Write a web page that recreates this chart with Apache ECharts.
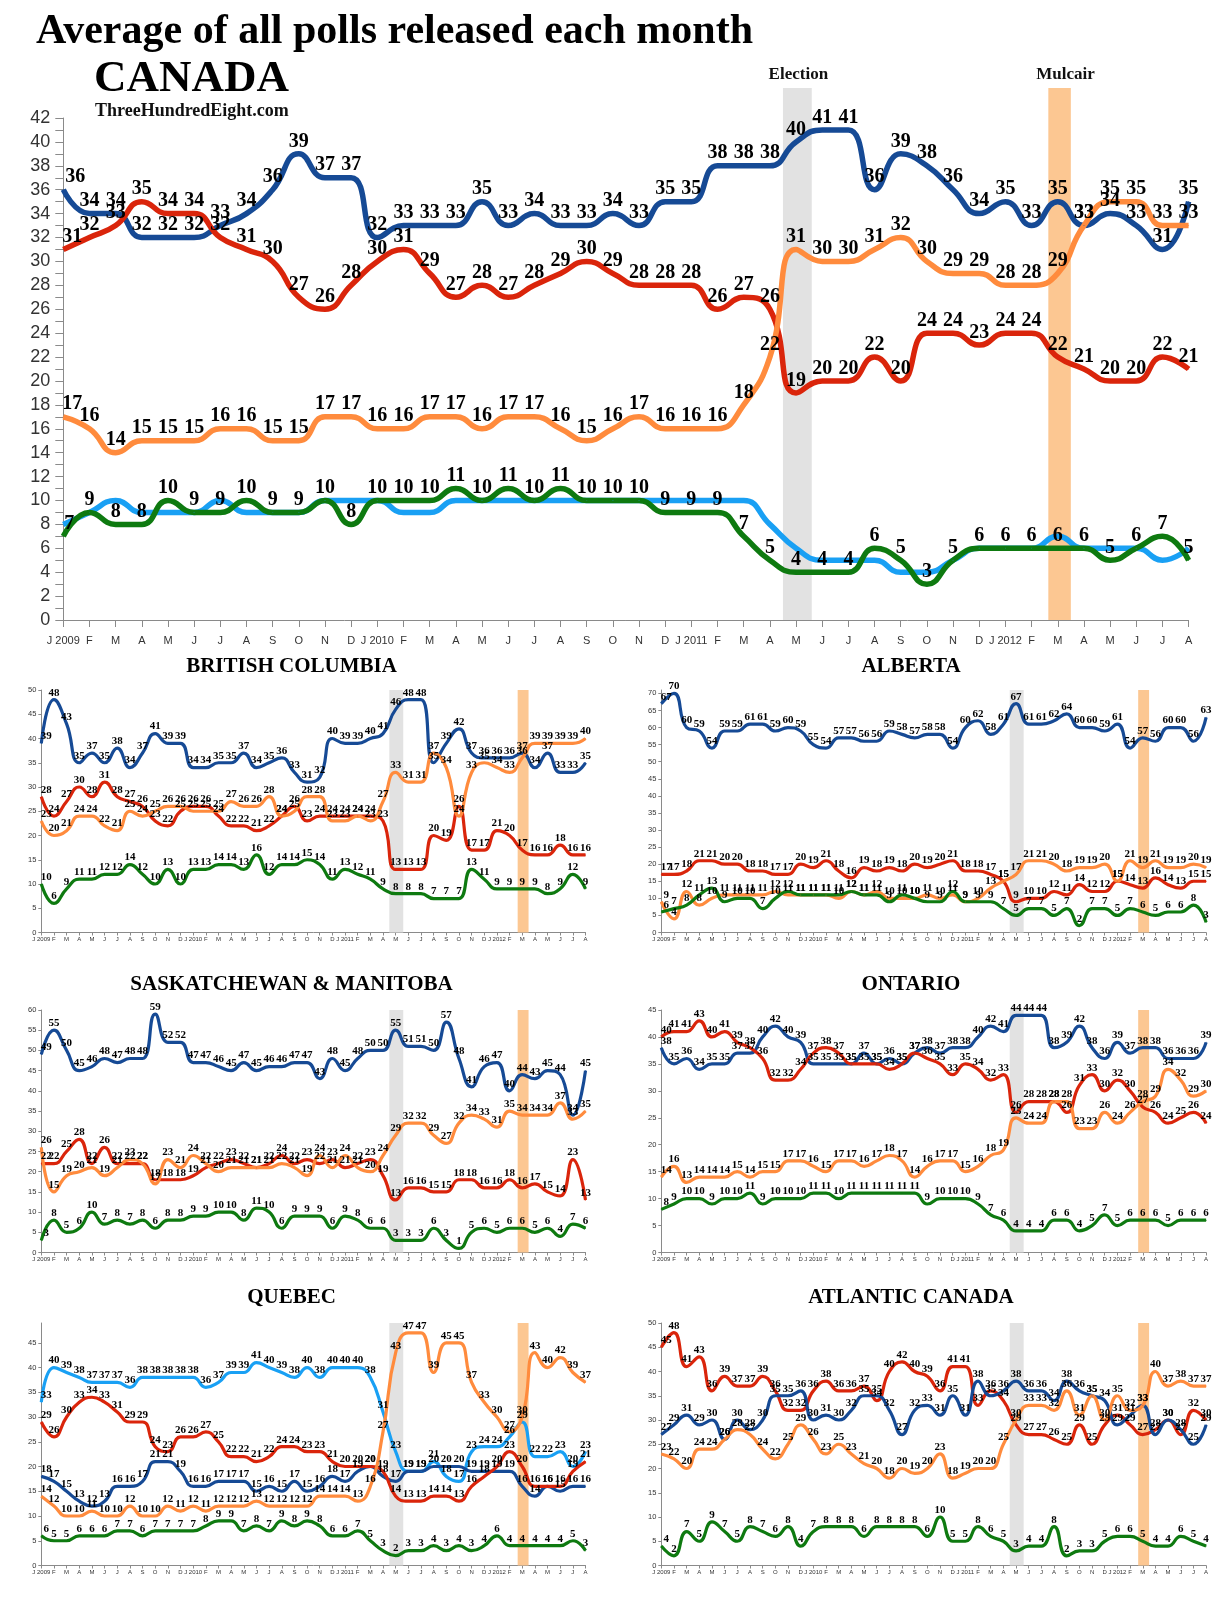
<!DOCTYPE html>
<html><head><meta charset="utf-8">
<script src="https://cdn.jsdelivr.net/npm/echarts@6.0.0/dist/echarts.min.js"></script>
<style>html,body{margin:0;padding:0;background:#fff;}#c{width:1229px;height:1600px;}</style>
</head><body><div id="c"></div>
<script>
const months = ['J 2009','F','M','A','M','J','J','A','S','O','N','D','J 2010','F','M','A','M','J','J','A','S','O','N','D','J 2011','F','M','A','M','J','J','A','S','O','N','D','J 2012','F','M','A','M','J','J','A'];

const canadaCon = [36,34,34,32,32,32,33,34,36,39,37,37, 32,33,33,33,35,33,34,33,33,34,33,35, 35,38,38,38,40,41,41,36,39,38,36,34, 35,33,35,33,34,33,31,35];
const canadaLib = [31,32,33,35,34,34,32,31,30,27,26,28, 30,31,29,27,28,27,28,29,30,29,28,28, 28,26,27,26,19,20,20,22,20,24,24,23, 24,24,22,21,20,20,22,21];
const canadaNdp = [17,16,14,15,15,15,16,16,15,15,17,17, 16,16,17,17,16,17,17,16,15,16,17,16, 16,16,18,22,31,30,30,31,32,30,29,29, 28,28,29,33,35,35,33,33];
const canadaBloc = [8,9,10,9,9,9,10,9,9,9,10,10, 10,9,9,10,10,10,10,10,10,10,10,10, 10,10,10,8,6,5,5,5,4,4,5,6, 6,6,7,6,6,6,5,6];
const canadaGrn = [7,9,8,8,10,9,9,10,9,9,10,8, 10,10,10,11,10,11,10,11,10,10,10,9, 9,9,7,5,4,4,4,6,5,3,5,6, 6,6,6,6,5,6,7,5];

const bcCon = [39,48,43,35,37,35,38,34,37,41,39,39, 34,34,35,35,37,34,35,36,33,31,32,40, 39,39,40,41,46,48,48,35,39,42,37,36, 36,36,37,34,37,33,33,35];
const bcLib = [28,24,27,30,28,31,28,27,26,23,22,25, 26,26,24,22,22,21,22,24,26,23,24,24, 24,24,24,23,13,13,13,20,19,26,17,17, 21,20,17,16,16,18,16,16];
const bcNdp = [23,20,21,24,24,22,21,25,24,25,26,26, 25,25,25,27,26,26,28,24,25,28,28,23, 23,24,23,27,33,31,31,37,34,24,33,35, 34,33,36,39,39,39,39,40];
const bcGrn = [10,6,9,11,11,12,12,14,12,10,13,10, 13,13,14,14,13,16,12,14,14,15,14,11, 13,12,11,9,8,8,8,7,7,7,13,11, 9,9,9,9,8,9,12,9];

const abCon = [67,70,60,59,54,59,59,61,61,59,60,59, 55,54,57,57,56,56,59,58,57,58,58,54, 60,62,58,61,67,61,61,62,64,60,60,59, 61,54,57,56,60,60,56,63];
const abLib = [17,17,18,21,21,20,20,18,18,17,17,20, 19,21,18,16,19,18,19,18,20,19,20,21, 18,18,17,15,9,10,10,12,11,14,12,12, 15,14,13,16,14,13,15,15];
const abNdp = [9,4,12,8,10,11,11,11,11,12,11,11, 11,11,10,12,11,12,10,10,10,11,10,11, 9,10,13,15,17,21,21,20,18,19,19,20, 15,21,19,21,19,19,20,19];
const abGrn = [6,7,8,11,13,9,10,10,7,10,12,11, 11,11,11,12,11,11,9,11,10,9,9,12, 9,9,9,7,5,7,7,5,7,2,7,7, 5,7,6,5,6,6,8,3];

const skCon = [49,55,50,45,46,48,47,48,48,59,52,52, 47,47,46,45,47,45,46,46,47,47,43,48, 45,48,50,50,55,51,51,50,57,48,41,46, 47,40,44,43,45,44,34,45];
const skLib = [22,22,25,28,22,26,22,22,22,18,18,18, 19,21,22,23,22,21,22,24,22,23,22,23, 21,22,23,19,13,16,16,15,15,18,18,16, 16,18,16,17,15,14,23,13];
const skNdp = [26,15,19,20,21,19,21,23,22,17,23,21, 24,22,20,21,21,21,21,22,21,19,24,21, 24,21,20,24,29,32,32,29,27,32,34,33, 31,35,34,34,34,37,33,35];
const skGrn = [3,8,5,6,10,7,8,7,8,6,8,8, 9,9,10,10,8,11,10,6,9,9,9,6, 9,8,6,6,3,3,3,6,3,1,5,6, 5,6,6,5,6,4,7,6];

const onCon = [38,35,36,34,35,35,37,37,40,42,40,39, 35,35,35,35,37,35,36,35,37,38,37,38, 38,40,42,41,44,44,44,38,39,42,38,36, 39,37,38,38,36,36,36,39];
const onLib = [40,41,41,43,40,41,39,38,36,32,32,34, 37,38,37,35,35,35,34,35,37,36,35,33, 35,34,32,33,26,28,28,28,26,31,33,30, 32,30,27,26,24,25,26,24];
const onNdp = [14,16,13,14,14,14,15,14,15,15,17,17, 16,15,17,17,16,17,18,17,14,16,17,17, 15,16,18,19,25,24,24,28,28,23,23,26, 24,26,28,29,34,32,29,30];
const onGrn = [8,9,10,10,9,10,10,11,9,10,10,10, 11,11,10,11,11,11,11,11,11,9,10,10, 10,9,7,6,4,4,4,6,6,4,5,7, 5,6,6,6,5,6,6,6];

const qcBloc = [33,40,39,38,37,37,37,36,38,38,38,38, 38,36,37,39,39,41,40,39,38,40,38,40, 40,40,38,31,23,19,19,21,18,17,23,24, 24,26,29,22,22,23,20,23];
const qcCon = [18,17,15,13,12,13,16,16,17,21,21,19, 16,16,17,17,17,15,16,15,17,15,16,18, 17,19,20,18,17,19,19,20,20,20,19,19, 19,19,16,14,16,15,16,16];
const qcLib = [29,26,30,33,34,33,31,29,29,24,23,26, 26,27,25,22,22,21,22,24,24,23,23,21, 20,20,20,19,14,13,13,14,14,13,16,18, 20,23,20,16,16,16,19,21];
const qcNdp = [14,12,10,10,11,10,10,12,10,10,12,11, 12,11,12,12,12,13,12,12,12,12,14,14, 14,13,16,27,43,47,47,39,45,45,37,33, 30,27,30,43,40,42,39,37];
const qcGrn = [6,5,5,6,6,6,7,7,6,7,7,7, 7,8,9,9,7,8,7,9,8,9,8,6, 6,7,5,3,2,3,3,4,3,4,3,4, 6,4,4,4,4,4,5,3];

const atLib = [45,48,41,43,36,39,37,37,39,36,32,32, 36,38,36,36,37,34,40,42,40,39,36,41, 41,33,36,34,29,27,27,26,25,29,25,29, 31,29,27,28,30,27,32,30];
const atCon = [27,29,31,29,30,26,30,28,30,35,35,36, 30,31,30,32,35,35,32,27,32,33,31,35, 31,38,35,36,38,36,36,34,38,36,35,34, 29,31,33,27,30,28,25,29];
const atNdp = [23,22,20,24,24,26,28,27,24,22,25,29, 26,23,25,23,21,20,18,20,19,20,23,18, 19,20,20,25,30,33,33,32,36,31,35,30, 35,32,33,40,37,38,37,37];
const atGrn = [4,2,7,5,9,7,5,8,7,6,8,4, 7,8,8,8,6,8,8,8,8,6,10,5, 5,8,6,5,3,4,4,8,2,3,3,5, 6,6,5,4,4,6,5,4];

const eventBands = [
  {name: 'Election', from: 27.5, to: 28.6},
  {name: 'Mulcair', from: 37.64, to: 38.5}
];

const C = {con:'#164a95', lib:'#da250b', ndp:'#ff8b3d', bloc:'#19a0f4', grn:'#0e7a10'};
const SERIF = 'Liberation Serif';
const SANS = 'Liberation Sans';

const chart = echarts.init(document.getElementById('c'), null, {renderer: 'canvas'});

const grids = [], xAxes = [], yAxes = [], series = [], graphics = [];

function addLine(gi, data, color, width, fs, showLabel, z, firstShift) {
  series.push({
    type: 'line', xAxisIndex: gi, yAxisIndex: gi,
    data: data.map((v, i) => i === 0 ? {value: [i, v], label: {offset: [firstShift, 0]}} : [i, v]),
    smooth: 0.5, symbol: 'circle', symbolSize: 1, showSymbol: true,
    lineStyle: {color: color, width: width}, itemStyle: {color: color},
    label: showLabel ? {show: true, position: 'top', distance: fs > 14 ? 2 : 1, color: '#000',
      fontFamily: SERIF, fontWeight: 'bold', fontSize: fs} : {show: false},
    emphasis: {disabled: true}, silent: true, animation: false, z: z
  });
}

function addBands(gi, withLabel) {
  series.push({
    type: 'line', xAxisIndex: gi, yAxisIndex: gi, data: [[0, 0]], symbol: 'none',
    lineStyle: {width: 0, opacity: 0}, silent: true, animation: false, z: 1,
    markArea: {
      silent: true,
      data: eventBands.map((b, k) => [
        {xAxis: b.from, name: b.name,
         itemStyle: {color: k === 0 ? '#e2e2e2' : '#fcc792'},
         label: withLabel ? {show: true, position: 'top', distance: 5, color: '#111',
           fontFamily: SERIF, fontWeight: 'bold', fontSize: 17, offset: [k === 0 ? 1 : 6, 0]} : {show: false}},
        {xAxis: b.to}
      ])
    }
  });
}

function xAxisDef(gi, opt) {
  return {
    type: 'value', gridIndex: gi, min: 0, max: 43, interval: 1,
    axisLine: {show: true, onZero: false, lineStyle: {color: '#8a8a8a', width: 1}},
    axisTick: {show: true, length: opt.tick, lineStyle: {color: '#8a8a8a'}},
    axisLabel: {show: true, formatter: v => months[v] || '', fontFamily: SANS, fontSize: opt.fs, color: '#333', margin: opt.margin, hideOverlap: false, showMinLabel: true, showMaxLabel: true},
    splitLine: {show: false}
  };
}

function yAxisDef(gi, max, interval, opt) {
  const ticks = [];
  for (let v = 0; v <= max; v += interval) ticks.push(v);
  return {
    type: 'value', gridIndex: gi, min: 0, max: max, interval: interval,
    axisLine: {show: true, lineStyle: {color: '#8a8a8a', width: 1}},
    axisTick: {show: true, length: opt.tick, lineStyle: {color: '#8a8a8a'}, customValues: ticks},
    axisLabel: {show: true, customValues: ticks, formatter: v => (v % interval === 0 ? String(v) : ''), fontFamily: SANS, fontSize: opt.fs, color: '#333', margin: opt.margin},
    minorTick: opt.minor ? {show: true, splitNumber: 2, length: opt.tick, lineStyle: {color: '#8a8a8a'}} : {show: false},
    splitLine: {show: false}, minorSplitLine: {show: false}
  };
}

// ---- main chart (grid 0) and band overlay (grid 1)
grids.push({left: 63.3, top: 118, width: 1125.3, height: 502});
xAxes.push(xAxisDef(0, {tick: 7, fs: 11, margin: 15}));
yAxes.push(yAxisDef(0, 42, 2, {tick: 8, fs: 18, margin: 13, minor: true}));
grids.push({left: 63.3, top: 88, width: 1125.3, height: 532});
xAxes.push({type: 'value', gridIndex: 1, min: 0, max: 43, show: false});
yAxes.push({type: 'value', gridIndex: 1, min: 0, max: 1, show: false});
addBands(1, true);
addLine(0, canadaCon, C.con, 5.5, 20, true, 5, 12);
addLine(0, canadaLib, C.lib, 5.5, 20, true, 5, 9);
addLine(0, canadaNdp, C.ndp, 5.5, 20, true, 5, 9);
addLine(0, canadaBloc, C.bloc, 5.5, 20, false, 5, 0);
addLine(0, canadaGrn, C.grn, 5.5, 20, true, 5, 6);

graphics.push({type: 'text', x: 36, y: 32, style: {text: 'Average of all polls released each month', font: 'bold 42px "Liberation Serif"', fill: '#000', textVerticalAlign: 'middle'}});
graphics.push({type: 'text', x: 94, y: 79, style: {text: 'CANADA', font: 'bold 45px "Liberation Serif"', fill: '#000', textVerticalAlign: 'middle'}});
graphics.push({type: 'text', x: 95, y: 111, style: {text: 'ThreeHundredEight.com', font: 'bold 18px "Liberation Serif"', fill: '#111', textVerticalAlign: 'middle'}});

// ---- panels
const panels = [
  {title: 'BRITISH COLUMBIA', max: 50, col: 0, row: 0, lines: [[bcCon, C.con], [bcLib, C.lib], [bcNdp, C.ndp], [bcGrn, C.grn]]},
  {title: 'ALBERTA', max: 71, col: 1, row: 0, lines: [[abCon, C.con], [abLib, C.lib], [abNdp, C.ndp], [abGrn, C.grn]]},
  {title: 'SASKATCHEWAN & MANITOBA', max: 60, col: 0, row: 1, lines: [[skCon, C.con], [skLib, C.lib], [skNdp, C.ndp], [skGrn, C.grn]]},
  {title: 'ONTARIO', max: 45, col: 1, row: 1, lines: [[onCon, C.con], [onLib, C.lib], [onNdp, C.ndp], [onGrn, C.grn]]},
  {title: 'QUEBEC', max: 49, col: 0, row: 2, lines: [[qcBloc, C.bloc], [qcCon, C.con], [qcLib, C.lib], [qcNdp, C.ndp], [qcGrn, C.grn]]},
  {title: 'ATLANTIC CANADA', max: 50, col: 1, row: 2, lines: [[atLib, C.lib], [atCon, C.con], [atNdp, C.ndp], [atGrn, C.grn]]}
];
const colLeft = [41.3, 661.3], colWidth = [544.2, 544.8], colTitleX = [291.5, 911];
const rowTop = [690, 1010, 1323], rowTitleY = [667, 985, 1298];
panels.forEach(p => {
  const gi = grids.length;
  grids.push({left: colLeft[p.col], top: rowTop[p.row], width: colWidth[p.col], height: 242.5});
  xAxes.push(xAxisDef(gi, {tick: 3, fs: 6, margin: 4}));
  yAxes.push(yAxisDef(gi, p.max, 5, {tick: 3, fs: 7.5, margin: 5, minor: false}));
  addBands(gi, false);
  p.lines.forEach(l => addLine(gi, l[0], l[1], 3.2, 11, true, 5, 5));
  graphics.push({type: 'text', x: colTitleX[p.col], y: rowTitleY[p.row], style: {text: p.title, font: 'bold 21px "Liberation Serif"', fill: '#000', textAlign: 'center', textVerticalAlign: 'middle'}});
});

chart.setOption({
  backgroundColor: '#fff',
  animation: false,
  grid: grids, xAxis: xAxes, yAxis: yAxes, series: series,
  graphic: graphics
});
</script></body></html>
